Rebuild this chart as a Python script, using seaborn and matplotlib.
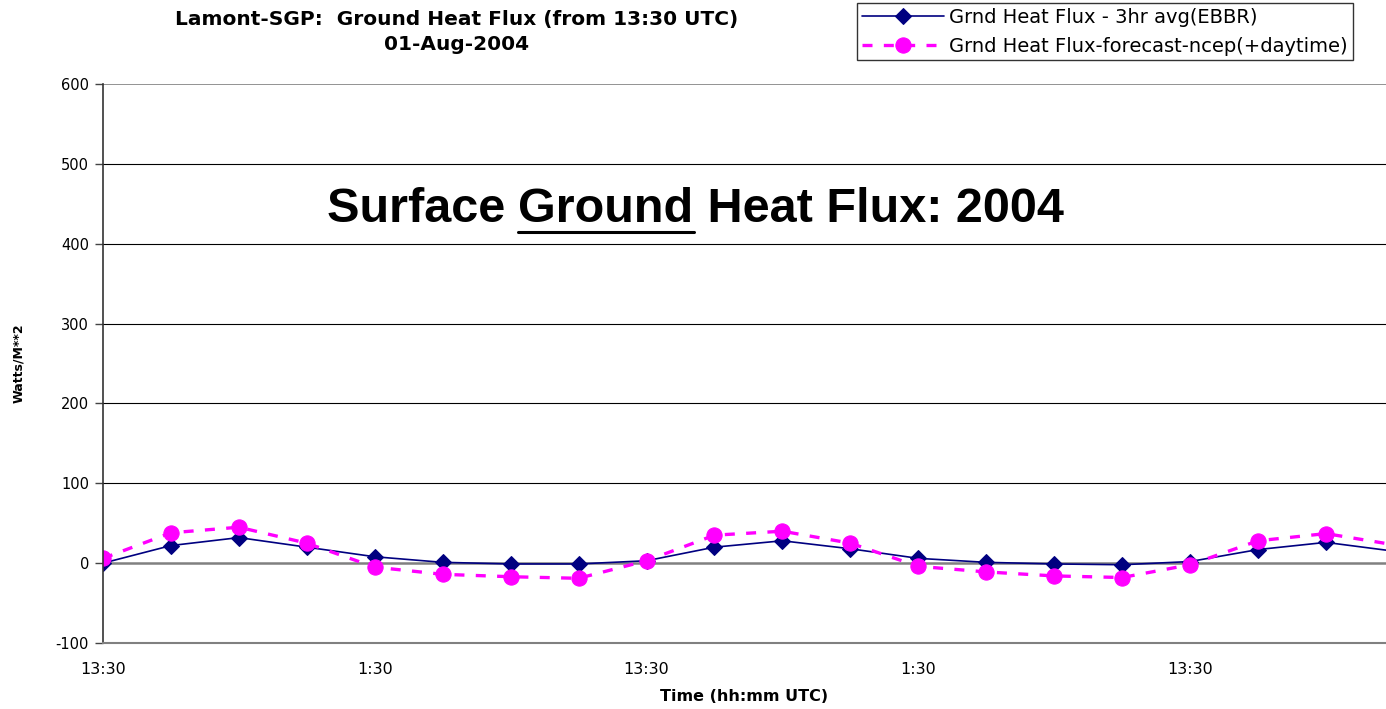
import matplotlib
matplotlib.use("Agg")
import matplotlib.pyplot as plt
import seaborn as sns
import pandas as pd
import numpy as np

# ---- data ----
step_index = list(range(20))
ebbr_flux = [0, 22, 32, 20, 8, 1, -1, -1, 3, 20, 28, 18, 6, 1, -1, -2, 2, 17, 26, 15]
ncep_flux = [6, 38, 45, 25, -5, -14, -17, -19, 3, 35, 40, 25, -4, -11, -16, -18, -2, 28, 37, 23]
tick_positions = [0, 4, 8, 12, 16]
tick_labels = ["13:30", "1:30", "13:30", "1:30", "13:30"]
y_ticks = [-100, 0, 100, 200, 300, 400, 500, 600]
series_names = ["Grnd Heat Flux - 3hr avg(EBBR)", "Grnd Heat Flux-forecast-ncep(+daytime)"]

sns.set_theme(style="white")
plt.rcParams['font.family'] = ['DejaVu Sans']
for k in ['text.color', 'axes.labelcolor', 'xtick.color', 'ytick.color']:
    plt.rcParams[k] = 'black'

fig = plt.figure(figsize=(13.86, 7.09), dpi=100)
ax = fig.add_axes([103/1386, 1-643/709, 1-103/1386, (643-84)/709])

df1 = pd.DataFrame({"x": step_index, "y": ebbr_flux})
df2 = pd.DataFrame({"x": step_index, "y": ncep_flux})

sns.lineplot(data=df1, x="x", y="y", ax=ax, color="#000080", linewidth=1.2,
             marker="D", markersize=8, markeredgecolor="#000080", label=series_names[0])
sns.lineplot(data=df2, x="x", y="y", ax=ax, color="#FF00FF", linewidth=2.4,
             marker="o", markersize=11, markeredgecolor="#FF00FF", label=series_names[1])
ax.lines[1].set_dashes([3, 3.4])

ax.set_xlim(0, (1386-103)/67.94)
ax.set_ylim(-100, 600)
ax.set_yticks(y_ticks)
ax.set_yticklabels([str(v) for v in y_ticks], fontsize=10.5)
ax.set_xticks(tick_positions)
ax.set_xticklabels(tick_labels, fontsize=11.5)
ax.tick_params(axis='y', length=6, width=1, color='#444444', direction='out', left=True, pad=4)
ax.tick_params(axis='x', length=0, pad=14)

for v in y_ticks[1:-1]:
    if v == 0:
        ax.axhline(v, color='#808080', linewidth=1.8, zorder=1)
    else:
        ax.axhline(v, color='black', linewidth=0.8, zorder=1)
ax.axhline(600, color='#808080', linewidth=1.2, zorder=1)

for s in ['top', 'right']:
    ax.spines[s].set_visible(False)
ax.spines['left'].set_color('#333333')
ax.spines['left'].set_linewidth(1.2)
ax.spines['bottom'].set_color('#808080')
ax.spines['bottom'].set_linewidth(1.5)

ax.set_xlabel("Time (hh:mm UTC)", fontsize=11.5, fontweight='bold', labelpad=8)
ax.set_ylabel("Watts/M**2", fontsize=9, fontweight='bold', labelpad=22)

fig.text(457/1386, 1-20/709, "Lamont-SGP:  Ground Heat Flux (from 13:30 UTC)", ha='center', va='center',
         fontsize=14.5, fontweight='bold')
fig.text(457/1386, 1-45/709, "01-Aug-2004", ha='center', va='center', fontsize=14.5, fontweight='bold')

leg = ax.legend(loc='upper left', bbox_to_anchor=(857/1386, 1-3/709), bbox_transform=fig.transFigure,
                fontsize=14, frameon=True, fancybox=False, handlelength=4.2, borderpad=0.25,
                labelspacing=0.5, handletextpad=0.3, borderaxespad=0)
leg.get_frame().set_edgecolor('black')
leg.get_frame().set_linewidth(1.0)

# big annotation with underlined word
fig.canvas.draw()
r = fig.canvas.get_renderer()
parts = ["Surface ", "Ground", " Heat Flux: 2004"]
fs = 35
big_family = ['Liberation Sans']
tmp = [fig.text(0, 0, p, fontsize=fs, fontweight='bold', family=big_family) for p in parts]
widths = []
for t in tmp:
    widths.append(t.get_window_extent(r).width)
    t.remove()
total = sum(widths)
cx, cy = 695, 709 - 209
x0 = cx - total/2
xs = x0
for p, w in zip(parts, widths):
    fig.text(xs/1386, cy/709, p, fontsize=fs, fontweight='bold', family=big_family, ha='left', va='center')
    if p == "Ground":
        fig.add_artist(plt.Line2D([xs/1386, (xs+w)/1386], [(709-232)/709]*2, color='black', linewidth=2.2,
                                  transform=fig.transFigure))
    xs += w

fig.savefig("out.png", dpi=100)
